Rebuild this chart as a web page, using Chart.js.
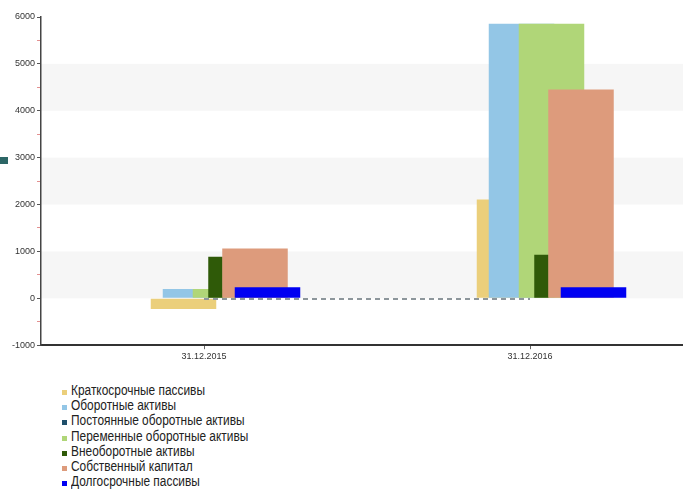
<!DOCTYPE html>
<html>
<head>
<meta charset="utf-8">
<script src="https://cdn.jsdelivr.net/npm/chart.js@4.4.0/dist/chart.umd.min.js"></script>
<style>
    html, body { margin: 0; padding: 0; background: #fff; width: 683px; height: 489px; overflow: hidden; }
    #wrap { position: absolute; left: 0; top: 0; width: 700px; height: 364px; }
    #bullet { position: absolute; left: 0; top: 157px; width: 8px; height: 7px; background: #2c6666; }
    #legend { position: absolute; left: 62px; top: 383px; font-family: 'Liberation Sans', Arial, sans-serif;
              font-size: 14px; line-height: 15.2px; color: #222; }
    #legend div { white-space: nowrap; height: 15.2px; }
    #legend .box { display: inline-block; width: 5px; height: 5px; margin-right: 4px; }
    #legend .txt { display: inline-block; transform: scaleX(0.85); transform-origin: 0 50%; }
</style>
</head>
<body>
<div id="bullet"></div>
<div id="wrap"><canvas id="chart" width="700" height="364"></canvas></div>
<div id="legend"></div>
<script>
// Data
const dates = ['31.12.2015', '31.12.2016'];
const shortLiabilities = [-228, 2106];
const currentAssets = [198, 5857];
const permanentCurrent = [-15, -12];
const variableCurrent = [198, 5857];
const nonCurrentAssets = [885, 928];
const equity = [1064, 4453];
const longLiabilities = [234, 234];

// Bars overlap inside each date. Chart.js puts each grouped bar at the centre of its slot,
// so the slot size per dataset (categoryPercentage) is chosen to land the bar where it sits.
const CAT_W = 326;   // px per category
const N_BARS = 6;    // grouped bar datasets
function slot(stackIdx, centre, width) {
    const k = (stackIdx + 0.5) / N_BARS - 0.5;
    const size = centre / k;
    return { categoryPercentage: size / CAT_W, barPercentage: width * N_BARS / size };
}

// Alternating light bands behind the plot
const bands = {
    id: 'bands',
    beforeDraw(chart) {
        const { ctx, chartArea: a, scales: { y } } = chart;
        ctx.save();
        ctx.fillStyle = '#f6f6f6';
        for (let v = 0; v < 6000; v += 2000) {
            const top = y.getPixelForValue(v + 1000);
            const bot = y.getPixelForValue(v);
            ctx.fillRect(a.left, top, a.right - a.left, bot - top);
        }
        ctx.restore();
    }
};

const tickFont = { family: "'Liberation Sans', sans-serif", size: 9 };

const chart = new Chart(document.getElementById('chart'), {
    type: 'bar',
    data: {
        labels: dates,
        datasets: [
            { label: 'Краткосрочные пассивы', data: shortLiabilities, backgroundColor: '#ebcf7b', order: 6, ...slot(5, -20.5, 65.5) },
            { label: 'Оборотные активы', data: currentAssets, backgroundColor: '#93c6e6', order: 5, ...slot(4, -8.5, 65.5) },
            { label: 'Постоянные оборотные активы', type: 'line', data: permanentCurrent, backgroundColor: '#1f4f6b',
              borderColor: '#8d969b', borderWidth: 2, borderDash: [5, 4], pointRadius: 0, fill: false, order: 0 },
            { label: 'Переменные оборотные активы', data: variableCurrent, backgroundColor: '#b0d678', order: 4, ...slot(3, 21.5, 65.5) },
            { label: 'Внеоборотные активы', data: nonCurrentAssets, backgroundColor: '#2f5a08', order: 3, ...slot(2, 11.5, 14.5) },
            { label: 'Собственный капитал', data: equity, backgroundColor: '#dd9b7c', order: 2, ...slot(1, 51, 65.5) },
            { label: 'Долгосрочные пассивы', data: longLiabilities, backgroundColor: '#0000f2', order: 1, ...slot(0, 63.5, 65.5) }
        ]
    },
    options: {
        responsive: false,
        animation: false,
        devicePixelRatio: 1,
        layout: { padding: { top: 17, right: 7, left: 0, bottom: 0 } },
        plugins: {
            legend: { display: false },
            tooltip: { enabled: false }
        },
        scales: {
            x: {
                grid: { drawOnChartArea: false, offset: false, tickLength: 4, tickColor: '#666' },
                border: { color: '#333', width: 2 },
                ticks: { font: { family: "'Liberation Sans', sans-serif", size: 9 }, color: '#333', padding: 2 }
            },
            y: {
                min: -1000,
                max: 6000,
                grid: {
                    drawOnChartArea: false,
                    tickLength: 4,
                    tickColor: (ctx) => ctx.tick && ctx.tick.value % 1000 === 0 ? '#555' : '#e39090'
                },
                border: { color: '#444', width: 1.5 },
                ticks: {
                    stepSize: 500,
                    autoSkip: false,
                    padding: 2,
                    font: tickFont,
                    color: '#333',
                    callback: (v) => v % 1000 === 0 ? v : ''
                },
                afterFit: (scale) => { scale.width = 41; }
            }
        }
    },
    plugins: [bands]
});

// Legend as a plain list under the chart
const legend = document.getElementById('legend');
chart.data.datasets.forEach((ds) => {
    const row = document.createElement('div');
    const box = document.createElement('span');
    box.className = 'box';
    box.style.background = ds.backgroundColor;
    const txt = document.createElement('span');
    txt.className = 'txt';
    txt.textContent = ds.label;
    row.appendChild(box);
    row.appendChild(txt);
    legend.appendChild(row);
});
</script>
</body>
</html>
